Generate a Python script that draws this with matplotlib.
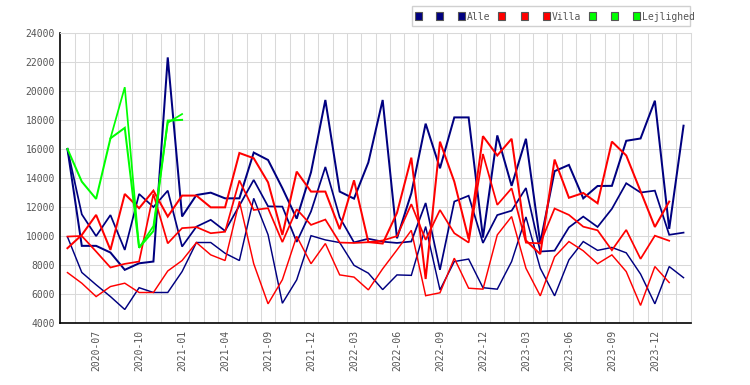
import numpy as np
import matplotlib
matplotlib.use("Agg")
import matplotlib.pyplot as plt
from matplotlib.patches import Rectangle
from matplotlib.ticker import FixedLocator, MultipleLocator

nan = np.nan

months = (["2020-05", "2020-06", "2020-07", "2020-08", "2020-09", "2020-10",
           "2020-11", "2020-12", "2021-01", "2021-02", "2021-03", "2021-04",
           "2021-06", "2021-08"] +
          ["2021-09", "2021-10", "2021-11", "2021-12",
           "2022-01", "2022-02", "2022-03", "2022-04", "2022-05", "2022-06",
           "2022-07", "2022-08", "2022-09", "2022-10", "2022-11", "2022-12",
           "2023-01", "2023-02", "2023-03", "2023-04", "2023-05", "2023-06",
           "2023-07", "2023-08", "2023-09", "2023-10", "2023-11", "2023-12",
           "2024-01", "2024-02"])

alle_1 = [16000, 9330, 9330, 8870, 7680, 8130, 8250, 22300, 11350, 12830, 12990, 12600,
          12600, 15750, 15240, 13300, 11200, 14400, 19370, 13065, 12580, 15070, 19370, 9850,
          12950, 17740, 14670, 18170, 18170, 9900, 16930, 13460, 16700, 9530, 14470, 14900,
          12600, 13450, 13460, 16560, 16720, 19320, 10500, 17600]
alle_2 = [16000, 11500, 10000, 11450, 9050, 12900, 12000, 13130, 9280, 10650, 11120, 10360,
          12100, 13870, 12050, 12030, 9600, 11700, 14760, 11290, 9570, 9820, 9620, 9530,
          9630, 12280, 7680, 12380, 12780, 9530, 11450, 11750, 13310, 8940, 9000, 10600,
          11345, 10630, 11880, 13640, 13000, 13130, 10090, 10240]
alle_3 = [9950, 7500, 6650, 5840, 4950, 6450, 6120, 6120, 7560, 9560, 9560, 8820,
          8320, 12600, 10100, 5380, 6990, 10030, 9740, 9557, 7990, 7450, 6320, 7330,
          7300, 10657, 6300, 8250, 8420, 6450, 6350, 8250, 11320, 7790, 5890, 8364,
          9626, 9020, 9220, 8850, 7390, 5340, 7905, 7140]

villa_1 = [9170, 10080, 11460, 9050, 12900, 11920, 13130, 11345, 12790, 12790, 11980, 11980,
           15720, 15360, 13700, 10080, 14440, 13065, 13065, 10480, 13840, 9590, 9490, 11600,
           15400, 7050, 16500, 13750, 9800, 16880, 15550, 16700, 9700, 8760, 15270, 12640,
           12970, 12260, 16505, 15550, 13090, 10630, 12377, nan]
villa_2 = [9970, 10010, 8940, 7840, 8090, 8250, 12900, 9500, 10550, 10620, 10200, 10300,
           13830, 11800, 11920, 9590, 11850, 10772, 11140, 9557, 9530, 9580, 9700, 10000,
           12200, 9740, 11800, 10200, 9557, 15650, 12150, 13290, 9550, 9500, 11900, 11460,
           10650, 10400, 9030, 10428, 8433, 10030, 9680, nan]
villa_3 = [7490, 6760, 5840, 6530, 6760, 6120, 6120, 7600, 8320, 9557, 8710, 8320,
           12400, 8100, 5340, 7000, 9990, 8100, 9490, 7332, 7180, 6300, 7750, 9052,
           10400, 5900, 6100, 8480, 6415, 6350, 10084, 11345, 7790, 5888, 8570, 9626,
           8990, 8100, 8707, 7560, 5230, 7905, 6805, nan]

lejl_1 = [16000, 13750, 12560, 16730, 17450, 9200, 10350, 17950, 18000] + [nan] * 35
lejl_2 = [nan, nan, nan, 16730, 20250, 9200, 10700, 17800, 18400] + [nan] * 35

groups = ["Alle", "Villa", "Lejlighed"]
colors = ["#000080", "#ff0000", "#00ff00"]
series = [(alle_1, alle_2, alle_3), (villa_1, villa_2, villa_3), (lejl_1, lejl_2)]
widths = [1.45, 1.25, 1.05]

W, H = 750, 385
fig = plt.figure(figsize=(W / 100, H / 100), dpi=100)
ax = fig.add_axes([60.3 / W, 1 - 323.3 / H, (690.7 - 60.3) / W, (323.3 - 32.7) / H])

x = np.arange(len(months))
for grp, col, ss in zip(groups, colors, series):
    for k, s in enumerate(ss):
        ax.plot(x, np.array(s, dtype=float), color=col, lw=widths[k],
                solid_joinstyle="miter", zorder=3)

ax.set_xlim(-0.5, len(months) - 0.5)
ax.set_ylim(4000, 24000)
ax.yaxis.set_major_locator(MultipleLocator(2000))
tick_idx = list(range(2, len(months), 3))
ax.xaxis.set_major_locator(FixedLocator(tick_idx))
ax.set_xticklabels([months[i] for i in tick_idx], rotation=90)
ax.xaxis.set_minor_locator(FixedLocator(np.arange(0.5, len(months), 1.0)))

gridc = "#d9d9d9"
ax.grid(True, axis="y", which="major", color=gridc, lw=0.75, zorder=0)
ax.grid(True, axis="x", which="minor", color=gridc, lw=0.75, zorder=0)
ax.grid(False, axis="x", which="major")
ax.set_axisbelow(True)

font = dict(family="DejaVu Sans Mono", size=7)
for lab in ax.get_xticklabels() + ax.get_yticklabels():
    lab.set_fontfamily("DejaVu Sans Mono")
    lab.set_fontsize(7)
    lab.set_color("#555555")
ax.tick_params(axis="both", which="both", length=0)
ax.tick_params(axis="y", pad=4)
ax.tick_params(axis="x", pad=5)

for sp in ["left", "bottom"]:
    ax.spines[sp].set_color("black")
    ax.spines[sp].set_linewidth(1.2)
for sp in ["top", "right"]:
    ax.spines[sp].set_color(gridc)
    ax.spines[sp].set_linewidth(0.75)

# legend box
def px(xp, yp):
    return xp / W, 1 - yp / H

bx0, by0 = px(411.5, 26)
fig.add_artist(Rectangle((bx0, by0), (690 - 411.5) / W, 20 / H, transform=fig.transFigure,
                         facecolor="white", edgecolor="#d0d0d0", lw=1.0))
marker_x = [[418, 440, 462], [502, 524, 546], [592, 614, 636]]
text_x = [467, 552, 642]
for grp, col, mx, tx in zip(groups, colors, marker_x, text_x):
    for m in mx:
        mx0, my0 = px(m - 3.5, 19.5)
        fig.add_artist(Rectangle((mx0, my0), 7 / W, 7 / H, transform=fig.transFigure,
                                 facecolor=col, edgecolor="#555555", lw=0.8))
    tx0, ty0 = px(tx, 16.5)
    fig.text(tx0, ty0, grp, ha="left", va="center", color="#555555", **font)

fig.savefig("out.png", dpi=100)
